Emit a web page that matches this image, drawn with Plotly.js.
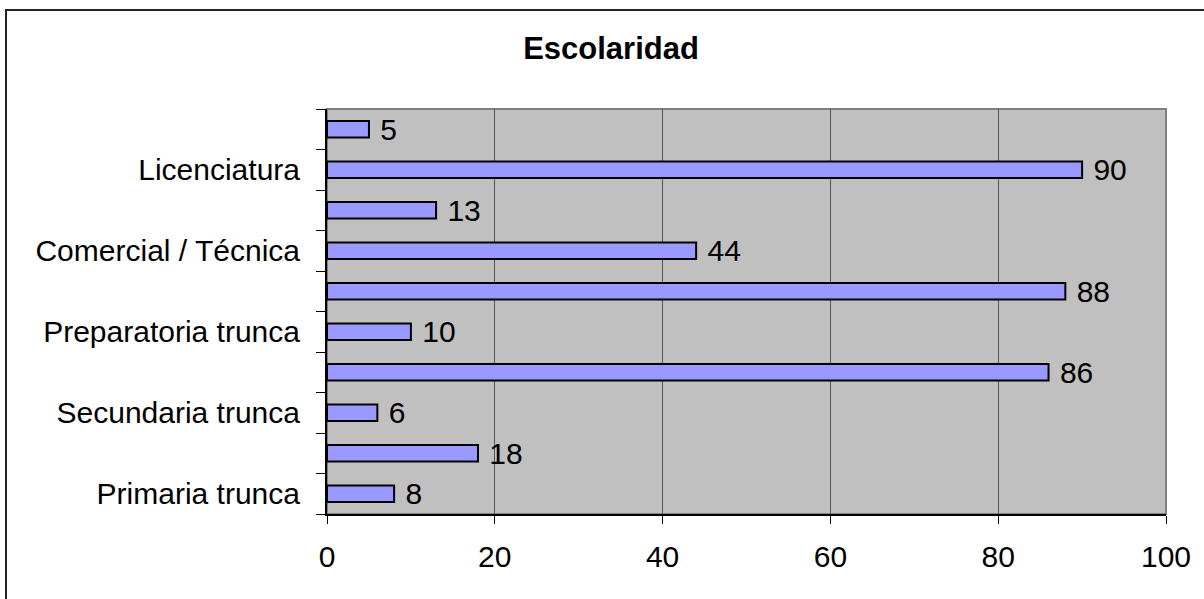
<!DOCTYPE html>
<html>
<head>
<meta charset="utf-8">
<script src="https://cdn.plot.ly/plotly-3.0.1.min.js"></script>
<style>
  html, body { margin: 0; padding: 0; background: #fff; }
  #wrap { position: relative; width: 1204px; height: 599px; overflow: hidden; }
  #chart { position: absolute; left: 0; top: 0; width: 1204px; height: 599px; }
  #frame { position: absolute; left: 5px; top: 9px; width: 1300px; height: 700px;
           border-left: 2px solid #222; border-top: 2px solid #222; pointer-events: none; }
</style>
</head>
<body>
<div id="wrap">
  <div id="chart"></div>
  <div id="frame"></div>
</div>
<script>
// Categories from bottom to top (hidden labels are not shown in the original)
const categories = ["Primaria trunca", "", "Secundaria trunca", "", "Preparatoria trunca", "",
                    "Comercial / Técnica", "", "Licenciatura", ""];
const values = [8, 18, 6, 86, 10, 88, 44, 13, 90, 5];
const xTicks = [0, 20, 40, 60, 80, 100];
const chartTitle = "Escolaridad";

const idx = categories.map((_, i) => i);
const labelIdx = idx.filter(i => categories[i] !== "");
const boundaries = [-0.5].concat(idx.map(i => i + 0.5));

const FONT = '"Liberation Sans", Arial, sans-serif';

const trace = {
  type: 'bar',
  orientation: 'h',
  x: values,
  y: idx,
  width: 0.41,
  marker: { color: '#9999FF', line: { color: '#000000', width: 2 } },
  text: values.map(v => ' ' + v),
  textposition: 'outside',
  constraintext: 'none',
  textfont: { family: FONT, size: 30, color: '#000' },
  cliponaxis: false,
  hoverinfo: 'skip'
};

const layout = {
  width: 1204,
  height: 599,
  margin: { l: 327, r: 38, t: 109, b: 85 },
  paper_bgcolor: 'rgba(0,0,0,0)',
  plot_bgcolor: '#C0C0C0',
  showlegend: false,
  font: { family: FONT, color: '#000' },
  title: {
    text: '<b>' + chartTitle + '</b>',
    font: { family: FONT, size: 31, color: '#000' },
    x: 611 / 1204, xref: 'container', xanchor: 'center',
    y: 1 - 48 / 599, yref: 'container', yanchor: 'middle'
  },
  xaxis: {
    range: [0, 100],
    tickvals: xTicks,
    ticktext: xTicks.map(String),
    ticks: 'outside', ticklen: 8, tickwidth: 1, tickcolor: '#000',
    showgrid: true, gridcolor: '#555', gridwidth: 1,
    showline: true, linecolor: '#000', linewidth: 2,
    zeroline: false,
    tickfont: { family: FONT, size: 30, color: '#000' },
    ticklabelstandoff: 7,
    fixedrange: true
  },
  yaxis: {
    range: [-0.5, 9.5],
    tickvals: labelIdx,
    ticktext: labelIdx.map(i => categories[i]),
    ticks: '',
    minor: { tickvals: boundaries, ticks: 'outside', ticklen: 9, tickwidth: 1, tickcolor: '#000', showgrid: false },
    showgrid: false,
    showline: true, linecolor: '#000', linewidth: 2,
    zeroline: false,
    tickfont: { family: FONT, size: 30, color: '#000' },
    ticklabelstandoff: 19,
    fixedrange: true
  },
  shapes: [{
    type: 'rect', xref: 'x domain', yref: 'y domain',
    x0: 0, x1: 1, y0: 0, y1: 1,
    line: { color: '#808080', width: 2 }, layer: 'below'
  }]
};

Plotly.newPlot('chart', [trace], layout, { staticPlot: true, displayModeBar: false });
</script>
</body>
</html>
